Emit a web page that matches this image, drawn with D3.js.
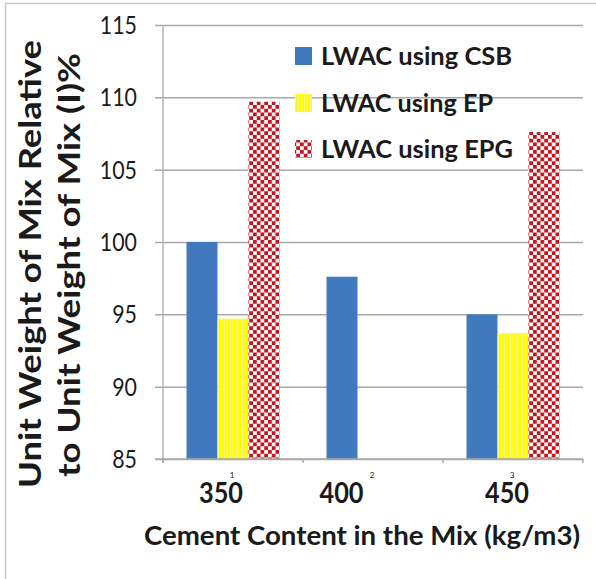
<!DOCTYPE html>
<html>
<head>
<meta charset="utf-8">
<script src="https://cdn.jsdelivr.net/npm/d3@7"></script>
<style>
  html, body { margin: 0; padding: 0; background: #ffffff; }
  svg { display: block; }
</style>
</head>
<body>
<svg id="chart" width="596" height="579"></svg>
<script>
// Category index shown under each group, and the cement content it stands for
const categories = ["1", "2", "3"];
const cementLabels = ["350", "400", "450"];
const seriesNames = ["LWAC using CSB", "LWAC using EP", "LWAC using EPG"];
// Unit weight relative to mix (I), in percent (null = no bar)
const csbValues = [100.0, 97.6, 95.0];
const epValues = [94.7, null, 93.7];
const epgValues = [109.7, null, 107.6];
const yTicks = [85, 90, 95, 100, 105, 110, 115];

const svg = d3.select("#chart");
const W = 596, H = 579;
const plot = { left: 163, right: 583, top: 25, bottom: 459 };
const textColor = "#1a1a1a";
const gridColor = "#a8a8a8";
const fontFamily = "Lato, 'Open Sans', sans-serif";

// Fills: solid blue, dotted yellow, red checkerboard
const defs = svg.append("defs");
const dots = defs.append("pattern").attr("id", "dotYellow")
  .attr("patternUnits", "userSpaceOnUse").attr("width", 3).attr("height", 2);
dots.append("rect").attr("width", 3).attr("height", 2).attr("fill", "#ffff00");
dots.append("rect").attr("x", 1).attr("y", 0).attr("width", 1).attr("height", 1).attr("fill", "#fff9a0");

const cell = 3.75;
const checker = defs.append("pattern").attr("id", "checkRed")
  .attr("patternUnits", "userSpaceOnUse").attr("width", cell * 2).attr("height", cell * 2);
checker.append("rect").attr("width", cell * 2).attr("height", cell * 2).attr("fill", "#ffffff");
checker.append("rect").attr("x", 0).attr("y", 0).attr("width", cell).attr("height", cell).attr("fill", "#c5161f");
checker.append("rect").attr("x", cell).attr("y", cell).attr("width", cell).attr("height", cell).attr("fill", "#c5161f");

const fills = ["#4079bd", "url(#dotYellow)", "url(#checkRed)"];

// Outer frame (top and left edges visible)
svg.append("path")
  .attr("d", `M5.5,${H + 5} V3.5 H${W + 5}`)
  .attr("fill", "none").attr("stroke", "#c8c8c8").attr("stroke-width", 1.5);

// Scales
const y = d3.scaleLinear().domain([85, 115]).range([plot.bottom, plot.top]);
const x0 = d3.scaleBand().domain(categories).range([plot.left, plot.right]).paddingInner(0).paddingOuter(0);
const groupPad = 23.5;
const x1 = d3.scaleBand().domain(seriesNames).range([groupPad, x0.bandwidth() - groupPad]).padding(0);

// Horizontal gridlines with left tick stubs
const yAxis = d3.axisLeft(y).tickValues(yTicks)
  .tickSize(-(plot.right - plot.left) - 8).tickSizeOuter(0).tickFormat("");
const gy = svg.append("g").attr("transform", `translate(${plot.left - 8},0)`).call(yAxis);
gy.select(".domain").remove();
gy.selectAll(".tick line")
  .attr("x1", 0).attr("x2", plot.right - plot.left + 8)
  .attr("stroke", gridColor).attr("stroke-width", 1.5);

// Vertical axis line
svg.append("line")
  .attr("x1", plot.left).attr("x2", plot.left)
  .attr("y1", plot.top).attr("y2", plot.bottom + 4)
  .attr("stroke", "#b4b4b4").attr("stroke-width", 1.5);

// Y tick labels
svg.append("g").selectAll("text").data(yTicks).join("text")
  .attr("x", 137).attr("y", d => y(d) + 9)
  .attr("text-anchor", "end")
  .attr("font-family", fontFamily).attr("font-size", 25)
  .attr("fill", textColor)
  .attr("textLength", d => String(d).length * 12.4)
  .attr("lengthAdjust", "spacingAndGlyphs")
  .text(d => d);

// Bars
const rows = categories.map((c, i) => ({
  cat: c,
  vals: [csbValues[i], epValues[i], epgValues[i]]
}));
const groups = svg.append("g").selectAll("g").data(rows).join("g")
  .attr("transform", d => `translate(${x0(d.cat)},0)`);
groups.selectAll("rect")
  .data(d => d.vals.map((v, j) => ({ name: seriesNames[j], v, j })).filter(e => e.v !== null))
  .join("rect")
  .attr("x", e => x1(e.name))
  .attr("width", x1.bandwidth())
  .attr("y", e => y(e.v))
  .attr("height", e => y(85) - y(e.v))
  .attr("fill", e => fills[e.j]);

// Category axis along the bottom
const xAxisLine = svg.append("g");
xAxisLine.append("line")
  .attr("x1", plot.left - 8).attr("x2", plot.right)
  .attr("y1", plot.bottom).attr("y2", plot.bottom)
  .attr("stroke", gridColor).attr("stroke-width", 1.5);
const boundaries = categories.map(c => x0(c)).concat([x0(categories[categories.length - 1]) + x0.bandwidth()]);
xAxisLine.selectAll("line.tk").data(boundaries).join("line").attr("class", "tk")
  .attr("x1", d => d).attr("x2", d => d)
  .attr("y1", plot.bottom).attr("y2", plot.bottom + 4)
  .attr("stroke", gridColor).attr("stroke-width", 1.5);

// Small index labels at group centres
svg.append("g").selectAll("text").data(categories).join("text")
  .attr("x", d => x0(d) + x0.bandwidth() / 2 - 1)
  .attr("y", 478)
  .attr("text-anchor", "middle")
  .attr("font-family", fontFamily).attr("font-size", 8)
  .attr("fill", textColor)
  .text(d => d);

// Cement content labels
const cementOffsets = [-12, -31.5, -6];
svg.append("g").selectAll("text").data(cementLabels).join("text")
  .attr("x", (d, i) => x0(categories[i]) + x0.bandwidth() / 2 + cementOffsets[i])
  .attr("y", 503)
  .attr("text-anchor", "middle")
  .attr("font-family", fontFamily).attr("font-weight", "bold").attr("font-size", 28)
  .attr("fill", textColor)
  .attr("textLength", 44).attr("lengthAdjust", "spacingAndGlyphs")
  .text(d => d);

// X title
svg.append("text")
  .attr("x", 144).attr("y", 545)
  .attr("font-family", fontFamily).attr("font-weight", "bold").attr("font-size", 27)
  .attr("fill", textColor)
  .attr("textLength", 436).attr("lengthAdjust", "spacingAndGlyphs")
  .text("Cement Content in the Mix (kg/m3)");

// Y title, two rotated lines
const yTitle = [
  { text: "Unit Weight of Mix Relative", base: 41, start: 488, len: 448 },
  { text: "to Unit Weight of Mix (I)%", base: 80, start: 477, len: 424 }
];
svg.append("g").selectAll("text").data(yTitle).join("text")
  .attr("transform", d => `translate(${d.base},${d.start}) rotate(-90)`)
  .attr("x", 0).attr("y", 0)
  .attr("font-family", fontFamily).attr("font-weight", "bold").attr("font-size", 31)
  .attr("fill", textColor)
  .attr("textLength", d => d.len).attr("lengthAdjust", "spacingAndGlyphs")
  .text(d => d.text);

// Legend
const legendBase = [65, 112, 158];
const legendWidths = [191, 172, 192];
const legend = svg.append("g").selectAll("g").data(seriesNames).join("g");
legend.append("rect")
  .attr("x", 295).attr("y", (d, i) => legendBase[i] - 18)
  .attr("width", 17).attr("height", 18)
  .attr("fill", (d, i) => fills[i]);
legend.append("text")
  .attr("x", 321).attr("y", (d, i) => legendBase[i])
  .attr("font-family", fontFamily).attr("font-weight", "bold").attr("font-size", 25)
  .attr("fill", textColor)
  .attr("textLength", (d, i) => legendWidths[i]).attr("lengthAdjust", "spacingAndGlyphs")
  .text(d => d);
</script>
</body>
</html>
